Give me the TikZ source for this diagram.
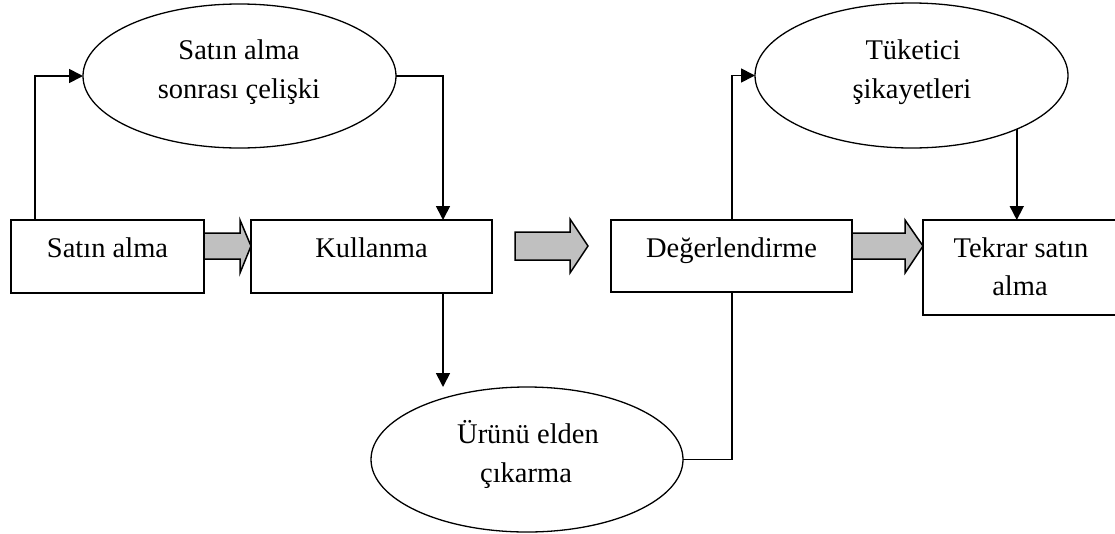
\documentclass[tikz,border=0pt]{standalone}
\usepackage{fontspec}
\setmainfont{Liberation Serif}
\usetikzlibrary{arrows.meta,shapes.geometric}
\definecolor{arrowgray}{RGB}{192,192,192}
\begin{document}
\begin{tikzpicture}[x=1pt,y=-1pt,
  line width=1.5pt,
  stage/.style={draw, rectangle, inner sep=0pt, outer sep=0pt, anchor=north west},
  oval/.style={draw, ellipse, inner sep=0pt, outer sep=0pt, line width=1.3pt},
  lbl/.style={anchor=base, inner sep=0pt, font=\fontsize{28.5}{39}\selectfont},
  conn/.style={draw, line width=1.7pt},
  arr/.style={conn, -{Triangle[length=14pt,width=14pt]}},
  blockarrow/.style={draw, fill=arrowgray, line width=1.5pt, line join=miter}]
\useasboundingbox (0,0) rectangle (1115,533);
\clip (0,0) rectangle (1115,533);

% stages of the process
\node[stage, minimum width=193pt, minimum height=73pt] (sa) at (11,220) {};
\node[stage, minimum width=241pt, minimum height=73pt] (ku) at (251,220) {};
\node[stage, minimum width=241pt, minimum height=72pt] (de) at (611,220) {};
\node[stage, minimum width=200pt, minimum height=95pt] (te) at (923,220) {};

% side outcomes
\node[oval, minimum width=313pt, minimum height=144pt] (e1) at (239.5,76) {};
\node[oval, minimum width=313pt, minimum height=145pt] (e2) at (911.5,75.5) {};
\node[oval, minimum width=312pt, minimum height=145pt] (e3) at (527,459.5) {};

% texts
\node[lbl] (t-sa) at (107.5,257) {Satın alma};
\node[lbl] (t-ku) at (371.5,257) {Kullanma};
\node[lbl] (t-de) at (731.5,257) {Değerlendirme};
\node[lbl] (t-te1) at (1021,257) {Tekrar satın};
\node[lbl] (t-te2) at (1020,295) {alma};
\node[lbl] (t-e1a) at (239,59) {Satın alma};
\node[lbl] (t-e1b) at (239,98) {sonrası çelişki};
\node[lbl] (t-e2a) at (913,59) {Tüketici};
\node[lbl] (t-e2b) at (912,98) {şikayetleri};
\node[lbl] (t-e3a) at (528,443) {Ürünü elden};
\node[lbl] (t-e3b) at (526,482) {çıkarma};

% gray block arrows between stages
\draw[blockarrow] (204,233) -- (240,233) -- (240,220) -- (251,246)
  -- (240,273) -- (240,259) -- (204,259) -- cycle;
\draw[blockarrow] (515,232) -- (570,232) -- (570,219) -- (588,246)
  -- (570,273) -- (570,260) -- (515,260) -- cycle;
\draw[blockarrow] (852,233) -- (905,233) -- (905,220) -- (923,246)
  -- (905,273) -- (905,259) -- (852,259) -- cycle;

% feedback connectors
\coordinate (drop) at (443,387);
\draw[arr] ([xshift=24pt]sa.north west) |- (e1.west);
\draw[arr] (e1.east) -| ([xshift=-49pt]ku.north east);
\draw[arr] ([xshift=-49pt]ku.south east) -- (drop);
\draw[conn] (e3.east) -| ([xshift=121pt]de.south west);
\draw[arr] ([xshift=121pt]de.north west) |- (e2.west);
\draw[arr] (e2.-27.7) -- (e2.-27.7 |- te.north);
\end{tikzpicture}
\end{document}
